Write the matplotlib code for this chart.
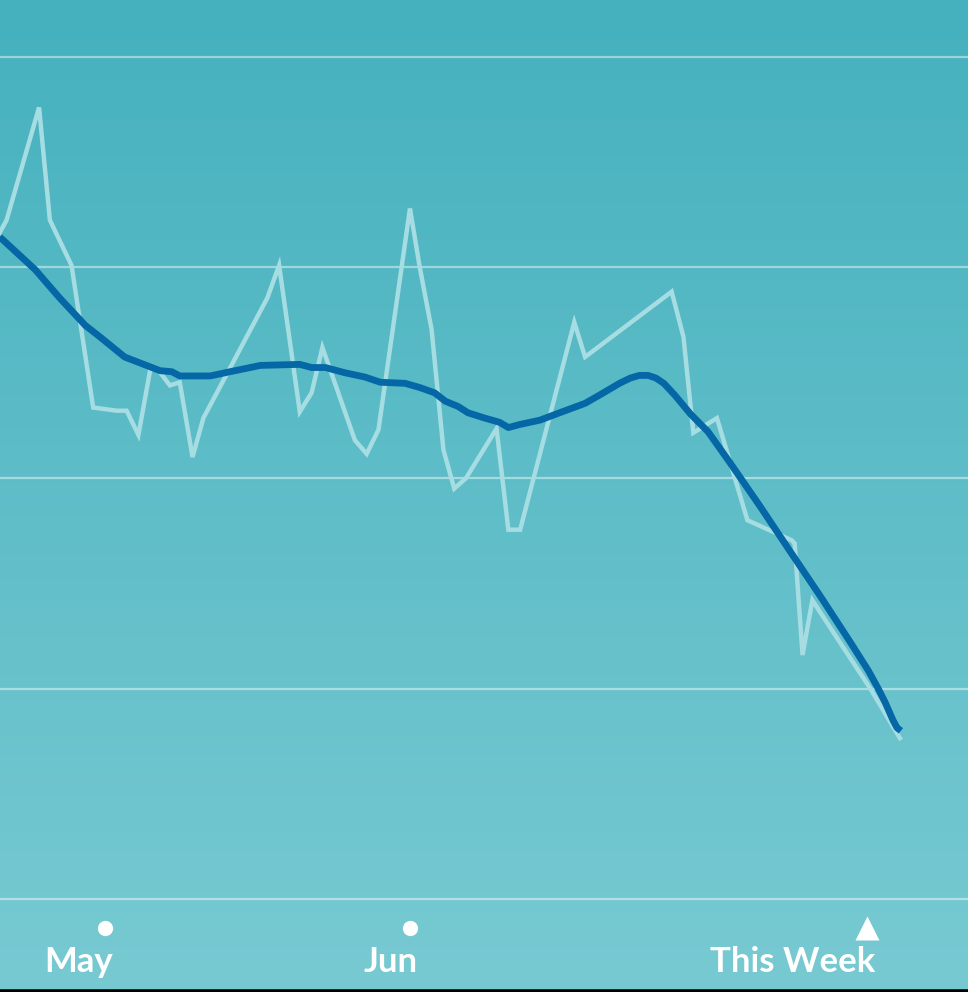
import numpy as np
import matplotlib
matplotlib.use("Agg")
import matplotlib.pyplot as plt
from matplotlib import transforms
from matplotlib.colors import LinearSegmentedColormap

# days relative to May 1, weights in lb
raw_days = [-10.7, -10.0, -6.7, -5.6, -3.4, -1.2, 1.2, 2.2, 3.4, 4.6, 5.3, 6.6, 7.6,
            8.9, 10.0, 16.5, 17.7, 19.8, 21.0, 22.1, 25.4, 26.6, 27.8, 31.0, 32.0,
            33.2, 34.4, 35.5, 36.7, 39.8, 41.0, 42.2, 47.7, 48.8, 57.6, 58.8, 59.8,
            62.2, 65.3, 69.8, 70.1, 70.9, 71.9, 74.7, 77.8, 80.8]
raw_weight = [164.33, 164.45, 165.52, 164.45, 164.02, 162.67, 162.64, 162.64, 162.41,
              163.03, 163.04, 162.88, 162.91, 162.20, 162.57, 163.71, 164.02, 162.63,
              162.81, 163.24, 162.36, 162.23, 162.46, 164.56, 164.0, 163.41, 162.27,
              161.90, 162.0, 162.47, 161.51, 161.51, 163.48, 163.15, 163.77, 163.34,
              162.43, 162.57, 161.60, 161.41, 161.38, 160.32, 160.84, 160.44, 160.0,
              159.53]

trend_days = [-10.7, -7.1, -4.6, -2.0, -0.5, 2.0, 5.6, 6.8, 7.6, 10.7, 12.7, 15.8,
              19.8, 21.0, 22.4, 24.4, 26.4, 28.0, 30.5, 32.0, 33.5, 34.6, 35.9, 36.9,
              38.6, 40.1, 41.0, 42.2, 44.2, 46.2, 48.8, 50.3, 52.3, 53.4, 54.3, 55.2,
              56.0, 56.8, 57.9, 59.5, 61.3, 63.5, 66.6, 69.6, 72.7, 75.7, 77.6, 78.6,
              79.3, 80.1, 80.5, 80.9]
trend_weight = [164.29, 163.98, 163.71, 163.45, 163.34, 163.15, 163.02, 163.01, 162.97,
                162.97, 163.01, 163.07, 163.08, 163.05, 163.05, 163.0, 162.96, 162.91,
                162.90, 162.86, 162.81, 162.73, 162.68, 162.62, 162.57, 162.53, 162.48,
                162.51, 162.55, 162.62, 162.71, 162.79, 162.90, 162.95, 162.975, 162.975,
                162.95, 162.90, 162.79, 162.61, 162.44, 162.15, 161.73, 161.31, 160.88,
                160.45, 160.17, 160.00, 159.87, 159.70, 159.63, 159.60]

grid_levels = [166, 164, 162, 160, 158]
label_days = [0, 31, 77.5]
label_text = ["May", "Jun", "This Week"]
label_marker = ["o", "o", "^"]

fig = plt.figure(figsize=(9.68, 9.92), dpi=100)
ax = fig.add_axes([0, 0, 1, 1])
ax.set_xlim(-10.67, 87.72)
ax.set_ylim(157.12, 166.54)

#background gradient, darker at the top
cmap = LinearSegmentedColormap.from_list("bg", ["#78cad2", "#45b1be"])
grad = np.linspace(0, 1, 256).reshape(-1, 1)
ax.imshow(grad, cmap=cmap, aspect="auto", extent=[0, 1, 0, 1],
          transform=ax.transAxes, origin="lower", zorder=0)

for g in grid_levels:
    ax.axhline(g, color="#ffffff", alpha=0.45, lw=1.6, zorder=1)

ax.plot(raw_days, raw_weight, color="#a5dde2", lw=3.2, zorder=2,
        solid_joinstyle="miter")
ax.plot(trend_days, trend_weight, color="#0567a6", lw=4.9, zorder=3,
        solid_capstyle="butt", solid_joinstyle="round")

trans = transforms.blended_transform_factory(ax.transData, ax.transAxes)
for d, t, m in zip(label_days, label_text, label_marker):
    ms = 11 if m == "o" else 17
    ax.plot([d], [0.0645], marker=m, ms=ms, color="white", mec="none",
            transform=trans, zorder=4, clip_on=False)
    txt_trans = transforms.offset_copy(trans, fig=fig, x=8, y=0, units="dots")
    ax.text(d, 0.03, t, transform=txt_trans, ha="right", va="center",
            color="white", fontsize=25, fontweight="bold", family="Lato")

for s in ["top", "left", "right"]:
    ax.spines[s].set_visible(False)
ax.spines["bottom"].set_color("black")
ax.spines["bottom"].set_linewidth(4)
ax.spines["bottom"].set_zorder(5)
ax.set_xticks([])
ax.set_yticks([])

fig.savefig("out.png", dpi=100)
